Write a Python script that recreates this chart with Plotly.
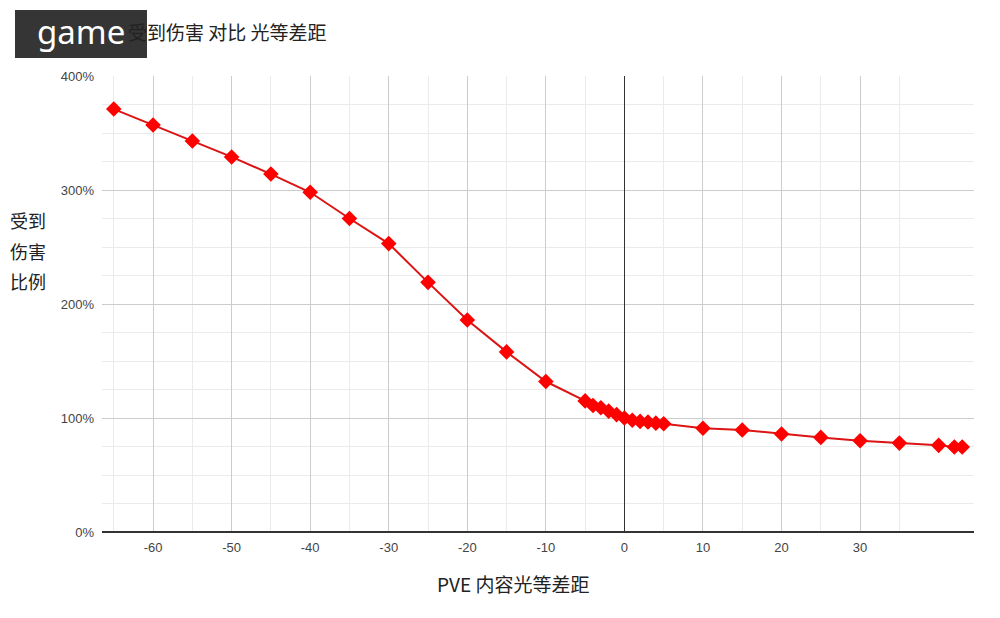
import plotly.graph_objects as go

x_vals = [-65, -60, -55, -50, -45, -40, -35, -30, -25, -20, -15, -10,
          -5, -4, -3, -2, -1, 0, 1, 2, 3, 4, 5,
          10, 15, 20, 25, 30, 35, 40, 42, 43]
y_vals = [371, 357, 343, 329, 314, 298, 275, 253, 219, 186, 158, 132,
          115, 111, 109, 106, 103, 100, 98, 97, 96.5, 95.5, 95,
          91, 89.5, 86, 83, 80, 78, 76, 74.5, 74.5]

x_ticks = [-60, -50, -40, -30, -20, -10, 0, 10, 20, 30]
x_minor = [-65, -55, -45, -35, -25, -15, -5, 5, 15, 25, 35]
y_ticks = [0, 100, 200, 300, 400]
y_tick_text = ["0%", "100%", "200%", "300%", "400%"]

title_text = "受到伤害 对比 光等差距"
x_title = "PVE 内容光等差距"
y_title_lines = ["受到", "伤害", "比例"]
watermark = "game"

CJK = "Noto Sans CJK SC"

fig = go.Figure()
fig.add_trace(go.Scatter(
    x=x_vals, y=y_vals, mode="lines+markers",
    line=dict(color="#dc1414", width=2),
    marker=dict(symbol="diamond", size=12, color="#ff0000"),
    showlegend=False, hoverinfo="x+y",
))

fig.update_layout(
    width=1000, height=618,
    margin=dict(l=102, r=26, t=76, b=86),
    paper_bgcolor="white", plot_bgcolor="white",
    font=dict(family="Liberation Sans", size=13, color="#444"),
    xaxis=dict(
        range=[-66.5, 44.5], tickvals=x_ticks, ticktext=[str(v) for v in x_ticks],
        showgrid=True, gridcolor="#cccccc", gridwidth=1,
        minor=dict(tickvals=x_minor, showgrid=True, gridcolor="#ebebeb", gridwidth=1),
        zeroline=True, zerolinecolor="#333333", zerolinewidth=1,
        showline=False, ticks="", ticklabelstandoff=6,
        tickfont=dict(family="Liberation Sans", size=13, color="#444"),
    ),
    yaxis=dict(
        range=[0, 400], tickvals=y_ticks, ticktext=y_tick_text,
        showgrid=True, gridcolor="#cccccc", gridwidth=1,
        minor=dict(dtick=25, showgrid=True, gridcolor="#ebebeb", gridwidth=1),
        zeroline=True, zerolinecolor="#333333", zerolinewidth=1.5,
        showline=False, ticks="", ticklabelstandoff=7,
        tickfont=dict(family="Liberation Sans", size=13, color="#444"),
    ),
)

# watermark box
fig.add_shape(type="rect", xref="paper", yref="paper",
              x0=(15 - 102) / 872, x1=(147 - 102) / 872,
              y0=(532 - 58) / 456, y1=(532 - 10) / 456,
              fillcolor="#353535", line=dict(width=0), layer="above")

fig.add_annotation(text=title_text, xref="paper", yref="paper",
                   x=(126 - 102) / 872, y=(532 - 31) / 456, xanchor="left", yanchor="middle",
                   showarrow=False, font=dict(family=CJK, size=19, color="#222"))
fig.add_annotation(text=watermark, xref="paper", yref="paper",
                   x=(81 - 102) / 872, y=(532 - 31) / 456, xanchor="center", yanchor="middle",
                   showarrow=False, font=dict(family="Noto Sans", size=33, color="#ffffff"))

fig.add_annotation(text=x_title, xref="paper", yref="paper",
                   x=(513 - 102) / 872, y=(532 - 583) / 456, xanchor="center", yanchor="middle",
                   showarrow=False, font=dict(family=CJK, size=19, color="#222"))

for i, line in enumerate(y_title_lines):
    yy = 220 + i * 30.5
    fig.add_annotation(text=line, xref="paper", yref="paper",
                       x=(28 - 102) / 872, y=(532 - yy) / 456, xanchor="center", yanchor="middle",
                       showarrow=False, font=dict(family=CJK, size=18, color="#222"))

fig.write_html("out.html")
